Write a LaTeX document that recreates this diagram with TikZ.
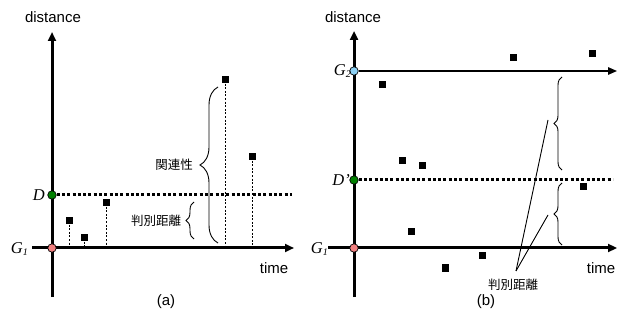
\documentclass[tikz,border=0pt]{standalone}
\usepackage{fontspec}
\setmainfont{Liberation Sans}
\newfontfamily\serifit{Liberation Serif}
\newfontfamily\cjk{Noto Sans CJK JP}
\usetikzlibrary{arrows.meta,decorations.pathreplacing}
\definecolor{gpink}{rgb}{0.95,0.50,0.50}
\definecolor{dgreen}{rgb}{0.0,0.50,0.0}
\definecolor{lblue}{rgb}{0.55,0.82,0.96}
\newcommand{\Gsub}[1]{G\raisebox{-0.15ex}{\fontsize{10}{10}\selectfont #1}}
\begin{document}
\begin{tikzpicture}[x=1pt,y=-1pt,
  axis/.style={line width=3pt,-{Triangle[length=9pt,width=8pt]}},
  thinaxis/.style={line width=1.4pt,-{Triangle[length=9pt,width=7.5pt]}},
  dotline/.style={line width=3pt,dash pattern=on 3pt off 2.3pt},
  sq/.style={rectangle,fill=black,minimum size=7pt,inner sep=0pt},
  drop/.style={line width=0.7pt,dash pattern=on 2pt off 1.6pt},
  mark0/.style={circle,draw=black,line width=0.7pt,minimum size=8.5pt,inner sep=0pt},
  lbl/.style={font=\fontsize{15}{17}\selectfont,inner sep=0pt},
  varlbl/.style={font=\serifit\itshape\fontsize{16.5}{18}\selectfont,inner sep=0pt},
  jp/.style={font=\cjk\fontsize{12.5}{14}\selectfont,inner sep=0pt},
  bracedeco/.style={decorate,decoration={brace,amplitude=#1},line width=0.9pt},
  leader/.style={line width=0.9pt}]
\useasboundingbox (0,0) rectangle (626,320);

% ---------------- panel (a) ----------------
\coordinate (aB) at (52,297);
\coordinate (aT) at (52,32);
\coordinate (aL) at (32,248);
\coordinate (aR) at (294,248);
\coordinate (aDe) at (292,195);
\draw[axis] (aB) -- (aT);
\draw[axis] (aL) -- (aR);
\node[mark0,fill=dgreen] (aD) at (52,195) {};
\draw[dotline] (aD.east) -- (aDe);
\node[mark0,fill=gpink] (aG) at (52,248) {};

\node[sq] (a1) at (69,221) {};
\node[sq] (a2) at (84,238) {};
\node[sq] (a3) at (106,203) {};
\node[sq] (a4) at (225,80) {};
\node[sq] (a5) at (252,157) {};
\foreach \p in {a1,a2,a3,a4,a5}{
  \draw[drop] (\p.south) -- (\p |- aL);
}

\node[lbl] (adist) at (53,17) {distance};
\node[lbl] (atime) at (274,268) {time};
\node[lbl] (acap) at (166,302) {(a)};
\node[varlbl,anchor=east] (aDl) at (45,195) {D};
\node[varlbl,anchor=east] (aGl) at (28,249) {\Gsub{1}};

\coordinate (bbS) at (218,243);
\coordinate (bbE) at (218,87);
\draw[bracedeco=18pt] (bbS) -- (bbE);
\coordinate (sbS) at (194,239);
\coordinate (sbE) at (194,202);
\draw[bracedeco=8pt] (sbS) -- (sbE);
\node[jp] (akanren) at (174,165) {関連性};
\node[jp] (ahan) at (156,221) {判別距離};

% ---------------- panel (b) ----------------
\coordinate (bB) at (354,297);
\coordinate (bT) at (354,31);
\coordinate (bL) at (328,248);
\coordinate (bR) at (617,248);
\coordinate (bG2e) at (617,71);
\coordinate (bDe) at (613,180);
\draw[axis] (bB) -- (bT);
\draw[axis] (bL) -- (bR);
\node[mark0,fill=lblue] (bG2) at (354,71) {};
\draw[thinaxis] (bG2.east) -- (bG2e);
\node[mark0,fill=dgreen] (bD) at (354,180) {};
\draw[dotline] (bD.east) -- (bDe);
\node[mark0,fill=gpink] (bG1) at (354,248) {};

\node[sq] (b1) at (382,85) {};
\node[sq] (b2) at (513,58) {};
\node[sq] (b3) at (592,54) {};
\node[sq] (b4) at (402,161) {};
\node[sq] (b5) at (422,166) {};
\node[sq] (b6) at (583,187) {};
\node[sq] (b7) at (411,232) {};
\node[sq] (b8) at (482,256) {};
\node[sq] (b9) at (445,268) {};

\node[lbl] (bdist) at (353,17) {distance};
\node[lbl] (btime) at (601,268) {time};
\node[lbl] (bcap) at (486,302) {(b)};
\node[varlbl,anchor=east] (bDl) at (350,180) {D’};
\node[varlbl,anchor=east] (bG2l) at (351,71) {\Gsub{2}};
\node[varlbl,anchor=east] (bG1l) at (328,249) {\Gsub{1}};

\coordinate (ubS) at (562,170);
\coordinate (ubE) at (562,77);
\draw[bracedeco=8pt] (ubS) -- (ubE);
\coordinate (lbS) at (562,245);
\coordinate (lbE) at (562,183);
\draw[bracedeco=8pt] (lbS) -- (lbE);

\node[jp] (bhan) at (513,285) {判別距離};
\coordinate (bj) at (516,271);
\coordinate (uT) at (548,120);
\coordinate (lT) at (548,215);
\draw[leader] (bj) -- (uT);
\draw[leader] (bj) -- (lT);
\end{tikzpicture}
\end{document}
